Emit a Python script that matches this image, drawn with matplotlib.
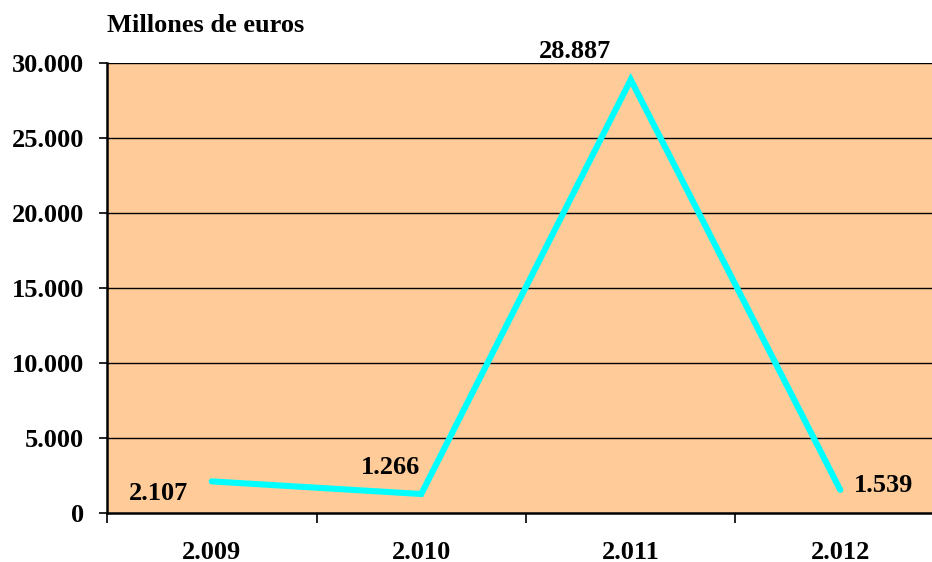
import matplotlib
matplotlib.use("Agg")
import matplotlib.pyplot as plt
from matplotlib.ticker import FixedLocator

years = ["2.009", "2.010", "2.011", "2.012"]
values = [2107, 1266, 28887, 1539]
value_labels = ["2.107", "1.266", "28.887", "1.539"]
yticks = [0, 5000, 10000, 15000, 20000, 25000, 30000]
ytick_labels = ["0", "5.000", "10.000", "15.000", "20.000", "25.000", "30.000"]

plt.rcParams['font.family'] = ['Liberation Serif', 'DejaVu Serif']
plt.rcParams['font.weight'] = 'bold'

fig = plt.figure(figsize=(9.32, 5.62), dpi=100)
W, H = 932, 562
left, right, top, bottom = 107, 945, 63, 513
ax = fig.add_axes([left / W, (H - bottom) / H, (right - left) / W, (bottom - top) / H])
ax.set_facecolor('#FFCC99')

x = list(range(len(years)))
ax.plot(x, values, color='#00FFFF', lw=4.4, solid_capstyle='round', solid_joinstyle='miter', zorder=3)

ax.set_xlim(-0.5, len(years) - 0.5)
ax.set_ylim(0, 30000)
ax.set_yticks(yticks)
ax.set_yticklabels(ytick_labels)
for yv in yticks[1:]:
    ax.axhline(yv, color='black', lw=1.0, zorder=1)

ax.set_xticks(x)
ax.set_xticklabels(years)
ax.xaxis.set_minor_locator(FixedLocator([i + 0.5 for i in range(-1, len(years))]))
ax.tick_params(axis='x', which='major', length=0, pad=20, labelsize=19)
ax.tick_params(axis='x', which='minor', length=7, width=1.2, direction='out')
ax.tick_params(axis='y', which='major', length=6, width=1.2, direction='out', pad=10.5, labelsize=19)
for lab in ax.get_xticklabels() + ax.get_yticklabels():
    lab.set_fontweight('bold')

for s in ['top', 'right']:
    ax.spines[s].set_visible(False)
ax.spines['left'].set_linewidth(1.8)
ax.spines['bottom'].set_linewidth(1.8)

offsets = [(-17, -9, 'right', 'center'), (-1, 19, 'right', 'center'), (-40, 12, 'center', 'bottom'), (10, 3, 'left', 'center')]
for i, (dx, dy, ha, va) in enumerate(offsets):
    ax.annotate(value_labels[i], (x[i], values[i]), xytext=(dx, dy), textcoords='offset points',
                ha=ha, va=va, fontsize=19, fontweight='bold', zorder=4)

fig.text(107 / W, 1 - 25 / H, "Millones de euros", ha='left', va='center', fontsize=19, fontweight='bold')

fig.savefig("out.png", dpi=100)
